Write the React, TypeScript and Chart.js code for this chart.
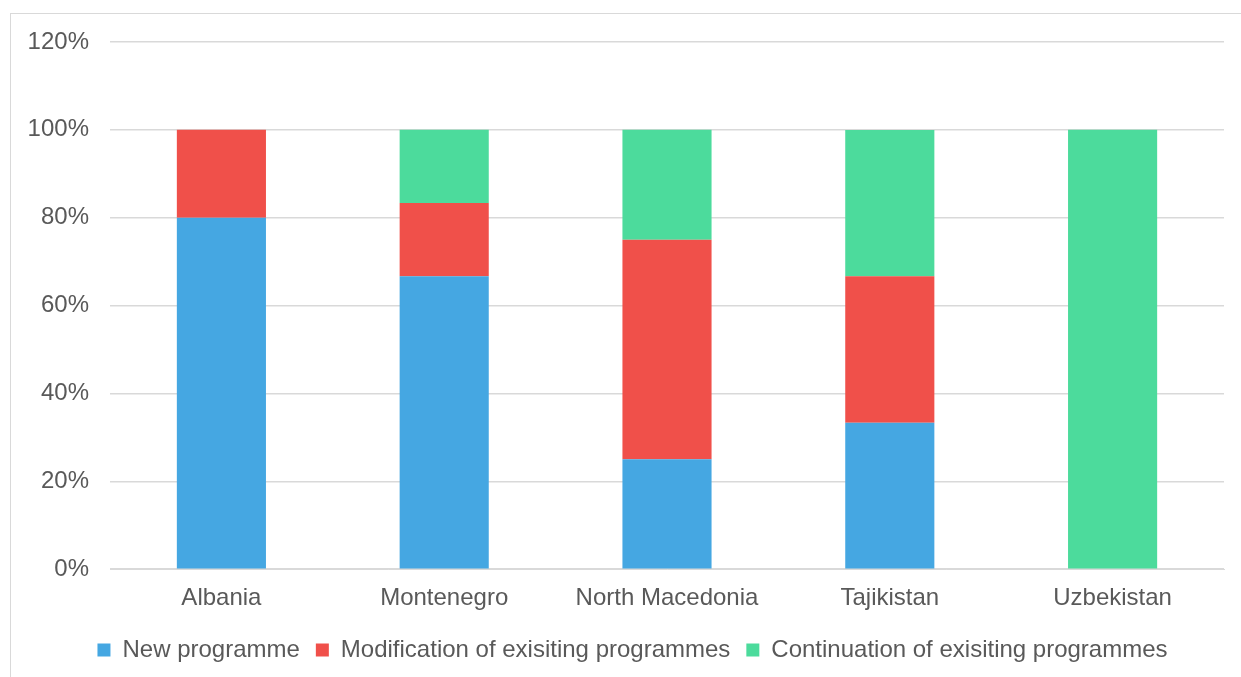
import React, { useEffect, useRef } from "react";
import { Chart, registerables } from "chart.js";

Chart.register(...registerables);

const categories = ["Albania", "Montenegro", "North Macedonia", "Tajikistan", "Uzbekistan"];
const newProgramme = [80, 66.67, 25, 33.33, 0];
const modification = [20, 16.67, 50, 33.33, 0];
const continuation = [0, 16.67, 25, 33.33, 100];
const seriesNames = [
  "New programme",
  "Modification of exisiting programmes",
  "Continuation of exisiting programmes",
];
const seriesColors = ["#45a7e2", "#f0504a", "#4cdb9c"];

const shiftLegend = {
  id: "shiftLegend",
  afterLayout(chart: any) {
    const l = chart.legend;
    if (l) {
      l.left += 15;
      l.right += 15;
    }
  },
};

export default function App() {
  const ref = useRef<HTMLCanvasElement | null>(null);

  useEffect(() => {
    if (!ref.current) return;
    const font = { family: "'Liberation Sans', Arial, sans-serif", size: 24 };
    const chart = new Chart(ref.current, {
      type: "bar",
      data: {
        labels: categories,
        datasets: [newProgramme, modification, continuation].map((d, i) => ({
          label: seriesNames[i],
          data: d,
          backgroundColor: seriesColors[i],
          borderWidth: 0,
          categoryPercentage: 0.4,
          barPercentage: 1,
        })),
      },
      plugins: [shiftLegend],
      options: {
        animation: false,
        responsive: true,
        maintainAspectRatio: false,
        layout: { padding: { top: 0, right: 17, left: 0, bottom: 5 } },
        plugins: {
          tooltip: { enabled: false },
          legend: {
            position: "bottom",
            labels: {
              font,
              color: "#595959",
              boxWidth: 13,
              boxHeight: 13,
              padding: 16,
            },
          },
        },
        scales: {
          x: {
            stacked: true,
            grid: { display: false },
            border: { display: true, color: "#d9d9d9" },
            ticks: { font, color: "#595959", padding: 7 },
            afterFit: (scale: any) => {
              scale.height = scale.height + 2;
            },
          },
          y: {
            stacked: true,
            min: 0,
            max: 120,
            grid: { color: "#d9d9d9", drawTicks: false, lineWidth: 1.5 },
            border: { display: false },
            ticks: {
              font,
              color: "#595959",
              stepSize: 20,
              padding: 21,
              callback: (v: any) => v + "%",
            },
            afterFit: (scale: any) => {
              scale.width = 99;
              scale.paddingTop = 28;
            },
          },
        },
      },
    });
    return () => chart.destroy();
  }, []);

  return (
    <div
      style={{
        position: "fixed",
        left: 10,
        top: 13,
        width: 1231,
        height: 664,
        boxSizing: "border-box",
        borderLeft: "1px solid #d9d9d9",
        borderTop: "1px solid #d9d9d9",
        background: "#fff",
      }}
    >
      <canvas ref={ref} />
    </div>
  );
}
